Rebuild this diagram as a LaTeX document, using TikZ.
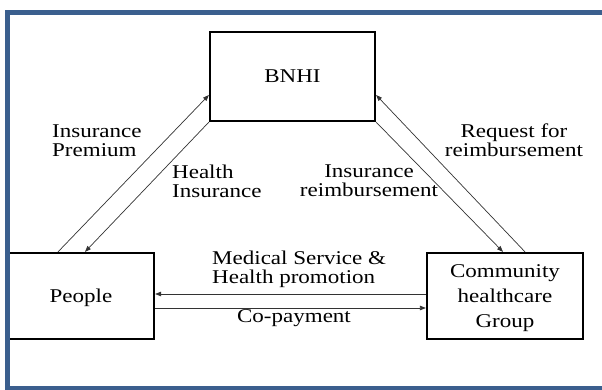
\documentclass[tikz,border=0pt]{standalone}
\usepackage{fontspec}
\setmainfont{Liberation Serif}[FakeStretch=1.18]
\usepackage{tikz}
\usetikzlibrary{arrows.meta, calc}
\definecolor{frameblue}{RGB}{59,95,142}

\begin{document}
\begin{tikzpicture}[
    x=1pt, y=-1pt,
    party/.style={rectangle, draw=black, line width=2.2pt, align=center, inner sep=0pt, text depth=0pt, font=\fontsize{19.5}{25}\selectfont},
    flow/.style={-{Triangle[length=6pt, width=4.5pt]}, line width=0.7pt, draw=black!80},
    flowtext/.style={inner sep=0pt, font=\fontsize{19.5}{19}\selectfont}
]
    \useasboundingbox (0,0) rectangle (602,390);

    % Parties
    \node[party, minimum width=165pt, minimum height=89pt] (bnhi) at (292.5,76.5) {BNHI};
    \node[party, minimum width=146pt, minimum height=86pt] (people) at (81,296) {People};
    \node[party, minimum width=156pt, minimum height=86pt] (comm) at (505,296) {Community\\healthcare\\Group};

    % Flows between BNHI and the others
    \draw[flow] ([xshift=-23pt]people.north) -- ([yshift=-18.5pt]bnhi.west);
    \draw[flow] (bnhi.south west) -- ([xshift=4pt]people.north);
    \draw[flow] (bnhi.south east) -- ([xshift=-2pt]comm.north);
    \draw[flow] ([xshift=20pt]comm.north) -- ([yshift=-18.5pt]bnhi.east);

    % Flows between people and providers
    \draw[flow] ([yshift=2pt]comm.west) -- ([yshift=2pt]people.east);
    \draw[flow] ([yshift=-12pt]people.east) -- ([yshift=-12pt]comm.west);

    % Labels
    \node[flowtext, anchor=west, align=left] (premium) at (52,140.5) {Insurance\\Premium};
    \node[flowtext, anchor=west, align=left] (cover) at (172,181) {Health\\Insurance};
    \node[flowtext, align=center] (refund) at (369,181) {Insurance\\reimbursement};
    \node[flowtext, align=center] (claim) at (514,140.5) {Request for\\reimbursement};
    \node[flowtext, anchor=west, align=left] (service) at (212,269.5) {Medical Service \&\\Health promotion};
    \node[flowtext] (copay) at (294,318.5) {Co-payment};

    % Outer frame
    \draw[frameblue, line width=5pt] (7.5,12.5) rectangle (640,388.5);
\end{tikzpicture}
\end{document}
